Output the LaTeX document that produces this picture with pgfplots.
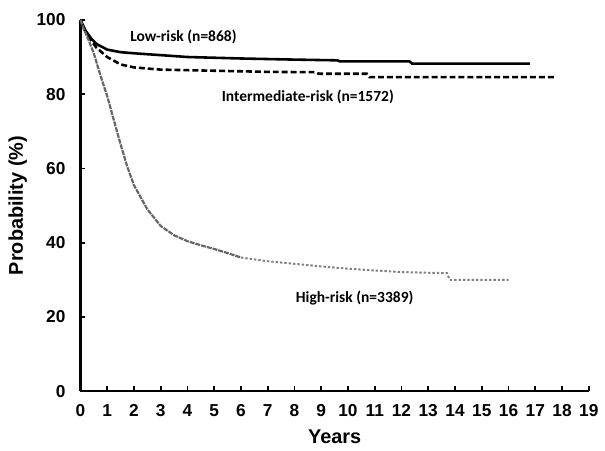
\documentclass[border=0pt]{standalone}
\usepackage{fontspec}
\setmainfont{Liberation Sans}
\newfontfamily\lbl{Carlito}
\usepackage{pgfplots}
\pgfplotsset{compat=1.18}

\begin{document}
\begin{tikzpicture}
\begin{axis}[
    scale only axis,
    width=256pt, height=187pt,
    axis lines=left,
    axis line style={line width=1.2pt, -},
    xmin=0, xmax=19, ymin=0, ymax=100,
    xtick={0,1,...,19},
    ytick={0,20,...,100},
    tick align=inside,
    major tick length=2.5pt,
    tick style={line width=0.9pt, black},
    ticklabel style={font=\bfseries\fontsize{8.7}{10}\selectfont},
    yticklabel style={xshift=-4pt},
    xticklabel style={yshift=-3pt},
    /pgf/number format/assume math mode=true,
    xlabel={\bfseries Years},
    ylabel={\bfseries Probability (\%)},
    label style={font=\bfseries\fontsize{10}{12}\selectfont},
    xlabel style={yshift=0pt},
    ylabel style={yshift=-2pt},
    clip=false,
]
% bounding box of the reference
\path (rel axis cs:-0.1582,-0.1551) rectangle (rel axis cs:1.0234,1.0535);
% Low-risk
\addplot[black, line width=1.3pt] coordinates {
 (0,100) (0.1,98.5) (0.2,97) (0.4,95) (0.6,93.5) (1,92) (1.5,91.3) (2,91) (3,90.5)
 (4,90) (6,89.6) (8,89.3) (9.6,89.1) (9.7,88.8) (12.3,88.8) (12.4,88.2) (16.8,88.2)
};
% Intermediate-risk
\addplot[black, line width=1.3pt, dash pattern=on 3pt off 1.5pt] coordinates {
 (0,100) (0.1,98) (0.3,95.5) (0.6,92.5) (1,90) (1.5,88) (2,87.2) (3,86.6)
 (5,86.3) (7,86) (8.8,85.9) (8.9,85.5) (10.7,85.5) (10.8,84.6) (17.7,84.6)
};
% High-risk
\addplot[black!60, line width=1.1pt, dash pattern=on 2.5pt off 0.5pt] coordinates {
 (0,100) (0.1,98) (0.25,95.5) (0.5,91) (0.75,85) (1,79.5) (1.25,73) (1.5,66.5)
 (1.75,60.5) (2,55.5) (2.5,49) (3,44.5) (3.5,42) (4,40.4) (4.5,39.3) (5,38.3)
 (5.5,37.2) (6,36)
};
\addplot[black!50, line width=1pt, dash pattern=on 1.2pt off 1pt] coordinates {
 (6,36) (7,35) (8,34.3) (9,33.6) (10,33) (11,32.5) (12,32.1)
 (13,31.9) (13.7,31.8) (13.8,30) (16,30)
};
\node[font=\lbl\bfseries\fontsize{7.8}{9}\selectfont] at (axis cs:3.85,95.3) {Low-risk (n=868)};
\node[font=\lbl\bfseries\fontsize{7.8}{9}\selectfont] at (axis cs:8.5,79.2) {Intermediate-risk (n=1572)};
\node[font=\lbl\bfseries\fontsize{7.8}{9}\selectfont] at (axis cs:10.25,25) {High-risk (n=3389)};
\end{axis}
\end{tikzpicture}
\end{document}
